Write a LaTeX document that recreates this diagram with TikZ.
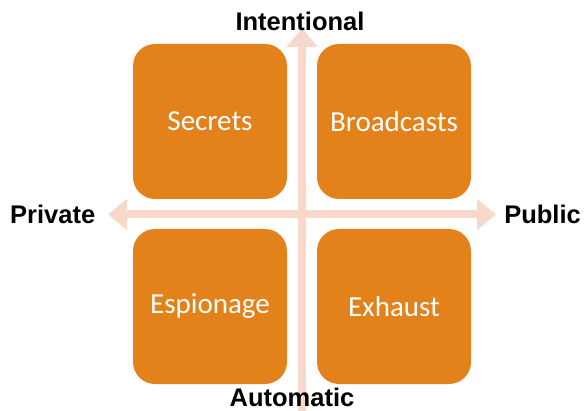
\documentclass[tikz,border=0pt]{standalone}
\usepackage{fontspec}
\setmainfont{Carlito}
\newfontfamily\labfont{Liberation Sans}
\usetikzlibrary{arrows.meta}
\definecolor{boxor}{HTML}{E3821A}
\definecolor{arrpk}{HTML}{F8D8CA}
\tikzset{
  quad/.style={fill=boxor, rounded corners=22pt, minimum width=154pt, minimum height=155pt, inner sep=0pt, text=white, font=\fontsize{29}{32}\selectfont},
  axlabel/.style={font=\labfont\fontsize{25.5}{28}\selectfont\bfseries, text=black, inner sep=0pt},
  axis/.style={draw=arrpk, line width=8pt, -{Triangle[width=30pt,length=19pt]}}
}
\begin{document}
\begin{tikzpicture}[x=1pt,y=-1pt]
\useasboundingbox (0,0) rectangle (586,411);
\coordinate (vb) at (302,420);
\coordinate (vt) at (302,28);
\coordinate (hl) at (108,214.5);
\coordinate (hr) at (496,214.5);
\coordinate (hc) at (302,214.5);
\draw[axis] (hc) -- (hl);
\draw[axis] (hc) -- (hr);
\draw[axis] (vb) -- (vt);
\node[quad] (sec) at (210,121.5) {Secrets};
\node[quad] (bro) at (394,121.5) {Broadcasts};
\node[quad] (esp) at (210,306.5) {Espionage};
\node[quad] (exh) at (394,306.5) {Exhaust};
\node[axlabel] (int) at (300,21) {Intentional};
\node[axlabel] (aut) at (292,397) {Automatic};
\node[axlabel, anchor=west] (pri) at (10,214) {Private};
\node[axlabel, anchor=east] (pub) at (581,214) {Public};
\end{tikzpicture}
\end{document}
